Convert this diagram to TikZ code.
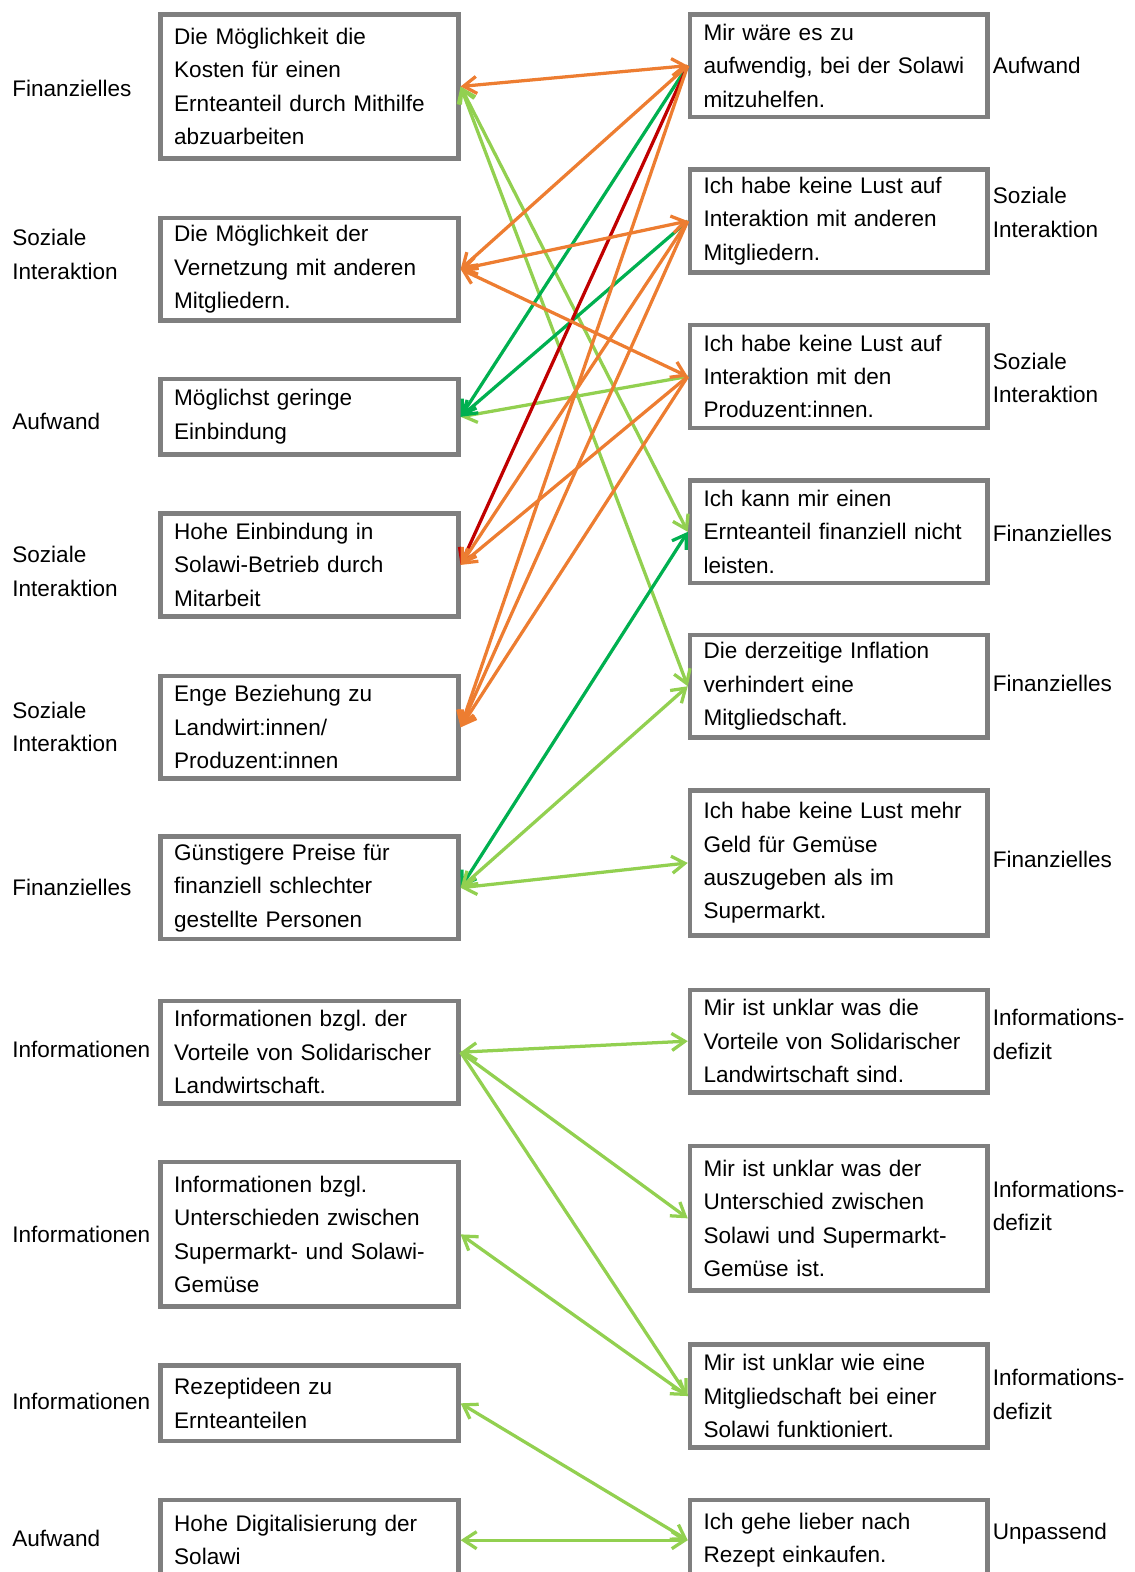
\documentclass[tikz,border=0pt]{standalone}
\usepackage{fontspec}
\setmainfont{Liberation Sans}
\usepackage{tikz}
\usetikzlibrary{arrows.meta}
\definecolor{boxgray}{HTML}{7F7F7F}
\definecolor{orng}{HTML}{ED7D31}
\definecolor{lgreen}{HTML}{92D050}
\definecolor{dgreen}{HTML}{00B050}
\definecolor{dred}{HTML}{C00000}
\tikzset{
  item/.style={
    draw=boxgray, line width=0.09cm,
    anchor=north west, align=left,
    text width=5.4cm, inner xsep=0.27cm, inner ysep=0pt,
    minimum height=2.05cm,
    font=\fontsize{12.8}{19}\selectfont,
    execute at begin node={\hyphenpenalty=10000\relax}
  },
  cat/.style={
    anchor=west, align=left, inner sep=0pt,
    font=\fontsize{12.8}{19}\selectfont
  },
  link/.style={line width=0.065cm}
}

\begin{document}
\begin{tikzpicture}[x=0.02cm,y=-0.02cm,>={Straight Barb[length=2.6mm,width=3.4mm]}]
  \useasboundingbox (0,0) rectangle (1132,1568);
  % left column
  \node[item,minimum height=2.88cm] (L1) at (158,12) {Die Möglichkeit die\\Kosten für einen\\Ernteanteil durch Mithilfe\\abzuarbeiten};
  \node[item] (L2) at (158,215) {Die Möglichkeit der\\Vernetzung mit anderen\\Mitgliedern.};
  \node[item,minimum height=1.5cm] (L3) at (158,376) {Möglichst geringe\\Einbindung};
  \node[item] (L4) at (158,510) {Hohe Einbindung in\\Solawi-Betrieb durch\\Mitarbeit};
  \node[item] (L5) at (158,672) {Enge Beziehung zu\\Landwirt:innen/\\Produzent:innen};
  \node[item] (L6) at (158,832) {Günstigere Preise für\\finanziell schlechter\\gestellte Personen};
  \node[item] (L7) at (158,996) {Informationen bzgl.\ der\\Vorteile von Solidarischer\\Landwirtschaft.};
  \node[item,minimum height=2.88cm] (L8) at (158,1157) {Informationen bzgl.\\Unterschieden zwischen\\Supermarkt- und Solawi-\\Gemüse};
  \node[item,minimum height=1.5cm] (L9) at (158,1360) {Rezeptideen zu\\Ernteanteilen};
  \node[item,minimum height=1.6cm] (L10) at (158,1494) {Hohe Digitalisierung der\\Solawi};
  \node[cat] (cL1) at (12,88) {Finanzielles};
  \node[cat] (cL2) at (12,254) {Soziale\\Interaktion};
  \node[cat] (cL3) at (12,420) {Aufwand};
  \node[cat] (cL4) at (12,570) {Soziale\\Interaktion};
  \node[cat] (cL5) at (12,725) {Soziale\\Interaktion};
  \node[cat] (cL6) at (12,885) {Finanzielles};
  \node[cat] (cL7) at (12,1047) {Informationen};
  \node[cat] (cL8) at (12,1231) {Informationen};
  \node[cat] (cL9) at (12,1398) {Informationen};
  \node[cat] (cL10) at (12,1535) {Aufwand};
  % right column
  \node[item] (R1) at (686,12) {Mir wäre es zu\\aufwendig, bei der Solawi\\mitzuhelfen.};
  \node[item] (R2) at (686,167) {Ich habe keine Lust auf\\Interaktion mit anderen\\Mitgliedern.};
  \node[item] (R3) at (686,322) {Ich habe keine Lust auf\\Interaktion mit den\\Produzent:innen.};
  \node[item] (R4) at (686,477) {Ich kann mir einen\\Ernteanteil finanziell nicht\\leisten.};
  \node[item] (R5) at (686,631) {Die derzeitige Inflation\\verhindert eine\\Mitgliedschaft.};
  \node[item,minimum height=2.9cm] (R6) at (686,786) {Ich habe keine Lust mehr\\Geld für Gemüse\\auszugeben als im\\Supermarkt.};
  \node[item] (R7) at (686,985) {Mir ist unklar was die\\Vorteile von Solidarischer\\Landwirtschaft sind.};
  \node[item,minimum height=2.88cm] (R8) at (686,1141) {Mir ist unklar was der\\Unterschied zwischen\\Solawi und Supermarkt-\\Gemüse ist.};
  \node[item] (R9) at (686,1339) {Mir ist unklar wie eine\\Mitgliedschaft bei einer\\Solawi funktioniert.};
  \node[item,minimum height=1.6cm] (R10) at (686,1494) {Ich gehe lieber nach\\Rezept einkaufen.};
  \node[cat] (cR1) at (990,65) {Aufwand};
  \node[cat] (cR2) at (990,212) {Soziale\\Interaktion};
  \node[cat] (cR3) at (990,377) {Soziale\\Interaktion};
  \node[cat] (cR4) at (990,532) {Finanzielles};
  \node[cat] (cR5) at (990,682) {Finanzielles};
  \node[cat] (cR6) at (990,857) {Finanzielles};
  \node[cat] (cR7) at (990,1032) {Informations-\\defizit};
  \node[cat] (cR8) at (990,1203) {Informations-\\defizit};
  \node[cat] (cR9) at (990,1391) {Informations-\\defizit};
  \node[cat] (cR10) at (990,1530) {Unpassend};
  % links
  \draw[link,lgreen,<->] (L1.east) -- (R4.west);
  \draw[link,lgreen,<->] (L1.east) -- (R5.west);
  \draw[link,lgreen,->] (R3.west) -- (L3.east);
  \draw[link,dgreen,->] (R1.west) -- (L3.east);
  \draw[link,dgreen,->] (R2.west) -- (L3.east);
  \draw[link,dred,->] (R1.west) -- (L4.east);
  \draw[link,orng,->] (R1.west) -- (L2.east);
  \draw[link,orng,->] (R1.west) -- (L5.east);
  \draw[link,orng,->] (R2.west) -- (L4.east);
  \draw[link,orng,->] (R2.west) -- (L5.east);
  \draw[link,orng,->] (R3.west) -- (L4.east);
  \draw[link,orng,->] (R3.west) -- (L5.east);
  \draw[link,orng,<->] (L2.east) -- (R2.west);
  \draw[link,orng,<->] (L2.east) -- (R3.west);
  \draw[link,orng,<->] (L1.east) -- (R1.west);
  \draw[link,dgreen,<->] (L6.east) -- (R4.west);
  \draw[link,lgreen,<->] (L6.east) -- (R5.west);
  \draw[link,lgreen,<->] (L6.east) -- (R6.west);
  \draw[link,lgreen,<->] (L7.east) -- (R7.west);
  \draw[link,lgreen,->] (L7.east) -- (R8.west);
  \draw[link,lgreen,->] (L7.east) -- (R9.west);
  \draw[link,lgreen,<->] (L8.east) -- (R9.west);
  \draw[link,lgreen,<->] (L9.east) -- (R10.west);
  \draw[link,lgreen,<->] (L10.east) -- (R10.west);
\end{tikzpicture}
\end{document}
